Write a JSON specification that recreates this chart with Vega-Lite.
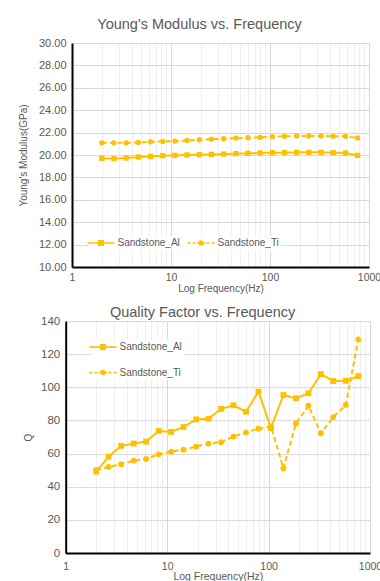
{
  "$schema": "https://vega.github.io/schema/vega-lite/v6.json",
  "background": "white",
  "padding": {"left": 18, "top": 17, "right": 0, "bottom": 2},
  "config": {
    "font": "Liberation Sans",
    "view": {"stroke": null},
    "axis": {"labelColor": "#595959", "titleColor": "#595959", "titleFontWeight": "normal", "titleFontSize": 10, "ticks": false, "domainColor": "#000000", "domainWidth": 2, "gridColor": "#d9d9d9", "gridWidth": 1},
    "title": {"fontSize": 14.5, "fontWeight": "normal", "color": "#595959"}
  },
  "data": {"values": [
    {"f": 2, "s": "Sandstone_Al", "E": 19.70, "Q": 49.2},
    {"f": 2.65, "s": "Sandstone_Al", "E": 19.67, "Q": 58.2},
    {"f": 3.52, "s": "Sandstone_Al", "E": 19.73, "Q": 64.7},
    {"f": 4.68, "s": "Sandstone_Al", "E": 19.82, "Q": 66.1},
    {"f": 6.21, "s": "Sandstone_Al", "E": 19.88, "Q": 67.3},
    {"f": 8.25, "s": "Sandstone_Al", "E": 19.94, "Q": 73.7},
    {"f": 10.95, "s": "Sandstone_Al", "E": 19.97, "Q": 73.1},
    {"f": 14.5, "s": "Sandstone_Al", "E": 20.00, "Q": 76.1},
    {"f": 19.3, "s": "Sandstone_Al", "E": 20.03, "Q": 80.7},
    {"f": 25.6, "s": "Sandstone_Al", "E": 20.06, "Q": 81.1},
    {"f": 34, "s": "Sandstone_Al", "E": 20.09, "Q": 87.0},
    {"f": 45.1, "s": "Sandstone_Al", "E": 20.12, "Q": 89.2},
    {"f": 59.9, "s": "Sandstone_Al", "E": 20.15, "Q": 85.3},
    {"f": 79.5, "s": "Sandstone_Al", "E": 20.18, "Q": 97.4},
    {"f": 105.6, "s": "Sandstone_Al", "E": 20.21, "Q": 75.5},
    {"f": 140, "s": "Sandstone_Al", "E": 20.21, "Q": 95.4},
    {"f": 186, "s": "Sandstone_Al", "E": 20.24, "Q": 93.4},
    {"f": 247, "s": "Sandstone_Al", "E": 20.24, "Q": 96.4},
    {"f": 328, "s": "Sandstone_Al", "E": 20.24, "Q": 108.0},
    {"f": 435, "s": "Sandstone_Al", "E": 20.21, "Q": 103.8},
    {"f": 578, "s": "Sandstone_Al", "E": 20.18, "Q": 104.0},
    {"f": 767, "s": "Sandstone_Al", "E": 19.97, "Q": 106.8},
    {"f": 2, "s": "Sandstone_Ti", "E": 21.09, "Q": 50.2},
    {"f": 2.65, "s": "Sandstone_Ti", "E": 21.09, "Q": 52.0},
    {"f": 3.52, "s": "Sandstone_Ti", "E": 21.09, "Q": 53.6},
    {"f": 4.68, "s": "Sandstone_Ti", "E": 21.12, "Q": 55.8},
    {"f": 6.21, "s": "Sandstone_Ti", "E": 21.18, "Q": 56.8},
    {"f": 8.25, "s": "Sandstone_Ti", "E": 21.21, "Q": 59.6},
    {"f": 10.95, "s": "Sandstone_Ti", "E": 21.24, "Q": 61.2},
    {"f": 14.5, "s": "Sandstone_Ti", "E": 21.30, "Q": 62.4},
    {"f": 19.3, "s": "Sandstone_Ti", "E": 21.36, "Q": 64.3},
    {"f": 25.6, "s": "Sandstone_Ti", "E": 21.42, "Q": 66.1},
    {"f": 34, "s": "Sandstone_Ti", "E": 21.45, "Q": 66.9},
    {"f": 45.1, "s": "Sandstone_Ti", "E": 21.51, "Q": 70.3},
    {"f": 59.9, "s": "Sandstone_Ti", "E": 21.54, "Q": 72.9},
    {"f": 79.5, "s": "Sandstone_Ti", "E": 21.57, "Q": 75.1},
    {"f": 105.6, "s": "Sandstone_Ti", "E": 21.64, "Q": 76.5},
    {"f": 140, "s": "Sandstone_Ti", "E": 21.67, "Q": 51.2},
    {"f": 186, "s": "Sandstone_Ti", "E": 21.70, "Q": 78.2},
    {"f": 247, "s": "Sandstone_Ti", "E": 21.70, "Q": 88.9},
    {"f": 328, "s": "Sandstone_Ti", "E": 21.70, "Q": 72.3},
    {"f": 435, "s": "Sandstone_Ti", "E": 21.67, "Q": 82.1},
    {"f": 578, "s": "Sandstone_Ti", "E": 21.67, "Q": 89.4},
    {"f": 767, "s": "Sandstone_Ti", "E": 21.52, "Q": 129.0}
  ]},
  "concat": [
    {
      "width": 297,
      "height": 224,
      "title": {"text": "Young's Modulus vs. Frequency", "offset": 4.3, "frame": "bounds", "anchor": "middle"},
      "encoding": {
        "x": {"field": "f", "type": "quantitative", "scale": {"type": "log", "domain": [1, 1000]}, "title": "Log Frequency(Hz)",
          "axis": {"values": [1,2,3,4,5,6,7,8,9,10,20,30,40,50,60,70,80,90,100,200,300,400,500,600,700,800,900,1000], "format": "d", "labelExpr": "indexof([1,10,100,1000], datum.value) >= 0 ? datum.label : ''", "labelOverlap": false, "labelFlush": false, "labelFontSize": 10.5, "labelPadding": 5, "titlePadding": 1,
            "gridColor": {"condition": {"test": "indexof([1,10,100,1000], datum.value) >= 0", "value": "#d9d9d9"}, "value": "#efefef"}}},
        "y": {"field": "E", "type": "quantitative", "scale": {"domain": [10, 30], "nice": false, "zero": false}, "title": "Young's Modulus(GPa)",
          "axis": {"values": [10,12,14,16,18,20,22,24,26,28,30], "format": ".2f", "labelFontSize": 11, "labelPadding": 6, "titlePadding": 10}}
      },
      "layer": [
        {
          "mark": {"type": "line", "strokeWidth": 2, "color": "#FFC000"},
          "encoding": {
            "strokeDash": {"field": "s", "type": "nominal", "scale": {"range": [[1, 0], [5, 3]]}, "legend": null}
          }
        },
        {
          "mark": {"type": "point", "filled": true, "opacity": 1, "size": 28, "color": "#FFC000"},
          "encoding": {
            "shape": {"field": "s", "type": "nominal", "scale": {"range": ["square", "circle"]}, "legend": null}
          }
        },
        {
          "mark": {"type": "point", "filled": true, "opacity": 0, "size": 100, "color": "#FFC000"},
          "encoding": {
            "shape": {"field": "s", "type": "nominal", "scale": {"range": ["M-1.7,-0.17H3.7V0.17H-1.7Z M0.4,-0.6H1.6V0.6H0.4Z", "M-1.7,-0.17H-1.1V0.17H-1.7Z M-0.7,-0.17H-0.1V0.17H-0.7Z M0.2,-0.17H0.5V0.17H0.2Z M1.5,-0.17H1.8V0.17H1.5Z M2.1,-0.17H2.7V0.17H2.1Z M3.1,-0.17H3.7V0.17H3.1Z M1.55,0A0.55,0.55 0 1,1 0.45,0A0.55,0.55 0 1,1 1.55,0Z"]},
              "legend": {"title": null, "orient": "bottom-left", "direction": "horizontal", "offset": 17, "padding": 2, "fillColor": "white", "labelFontSize": 10, "labelColor": "#595959", "symbolSize": 100, "symbolOpacity": 1, "symbolFillColor": "#FFC000", "symbolStrokeWidth": 0, "labelOffset": 16.5, "columnPadding": 7}}
          }
        }
      ],
      "resolve": {"scale": {"shape": "independent"}}
    },
    {
      "width": 298,
      "height": 232,
      "title": {"text": "Quality Factor vs. Frequency", "offset": -5.4, "frame": "bounds", "anchor": "middle"},
      "encoding": {
        "x": {"field": "f", "type": "quantitative", "scale": {"type": "log", "domain": [1, 1000], "range": [-6.3, 298]}, "title": "Log Frequency(Hz)",
          "axis": {"values": [1,2,3,4,5,6,7,8,9,10,20,30,40,50,60,70,80,90,100,200,300,400,500,600,700,800,900,1000], "format": "d", "labelExpr": "indexof([1,10,100,1000], datum.value) >= 0 ? datum.label : ''", "labelOverlap": false, "labelFlush": false, "labelFontSize": 10.5, "labelPadding": 8, "titlePadding": 0, "titleFontSize": 10.5,
            "gridColor": {"condition": {"test": "indexof([1,10,100,1000], datum.value) >= 0", "value": "#d9d9d9"}, "value": "#efefef"}}},
        "y": {"field": "Q", "type": "quantitative", "scale": {"domain": [0, 140], "nice": false}, "title": "Q",
          "axis": {"values": [0,20,40,60,80,100,120,140], "format": "d", "labelFontSize": 11.5, "labelPadding": 6, "titlePadding": 7, "offset": 6.3}}
      },
      "layer": [
        {
          "mark": {"type": "line", "strokeWidth": 2, "color": "#FFC000"},
          "encoding": {
            "strokeDash": {"field": "s", "type": "nominal", "scale": {"range": [[1, 0], [5, 3]]}, "legend": null}
          }
        },
        {
          "mark": {"type": "point", "filled": true, "opacity": 1, "size": 34, "color": "#FFC000"},
          "encoding": {
            "shape": {"field": "s", "type": "nominal", "scale": {"range": ["square", "circle"]}, "legend": null}
          }
        },
        {
          "mark": {"type": "point", "filled": true, "opacity": 0, "size": 100, "color": "#FFC000"},
          "encoding": {
            "shape": {"field": "s", "type": "nominal", "scale": {"range": ["M-1.7,-0.17H3.7V0.17H-1.7Z M0.4,-0.6H1.6V0.6H0.4Z", "M-1.7,-0.17H-1.1V0.17H-1.7Z M-0.7,-0.17H-0.1V0.17H-0.7Z M0.2,-0.17H0.5V0.17H0.2Z M1.5,-0.17H1.8V0.17H1.5Z M2.1,-0.17H2.7V0.17H2.1Z M3.1,-0.17H3.7V0.17H3.1Z M1.55,0A0.55,0.55 0 1,1 0.45,0A0.55,0.55 0 1,1 1.55,0Z"]},
              "legend": {"title": null, "orient": "top-left", "direction": "vertical", "offset": 18.5, "padding": 2, "fillColor": "white", "labelFontSize": 10, "labelColor": "#595959", "symbolSize": 100, "symbolOpacity": 1, "symbolFillColor": "#FFC000", "symbolStrokeWidth": 0, "labelOffset": 16.5, "rowPadding": 15.5}}
          }
        }
      ],
      "resolve": {"scale": {"shape": "independent"}}
    }
  ],
  "columns": 1,
  "align": "none",
  "spacing": 10.1
}
